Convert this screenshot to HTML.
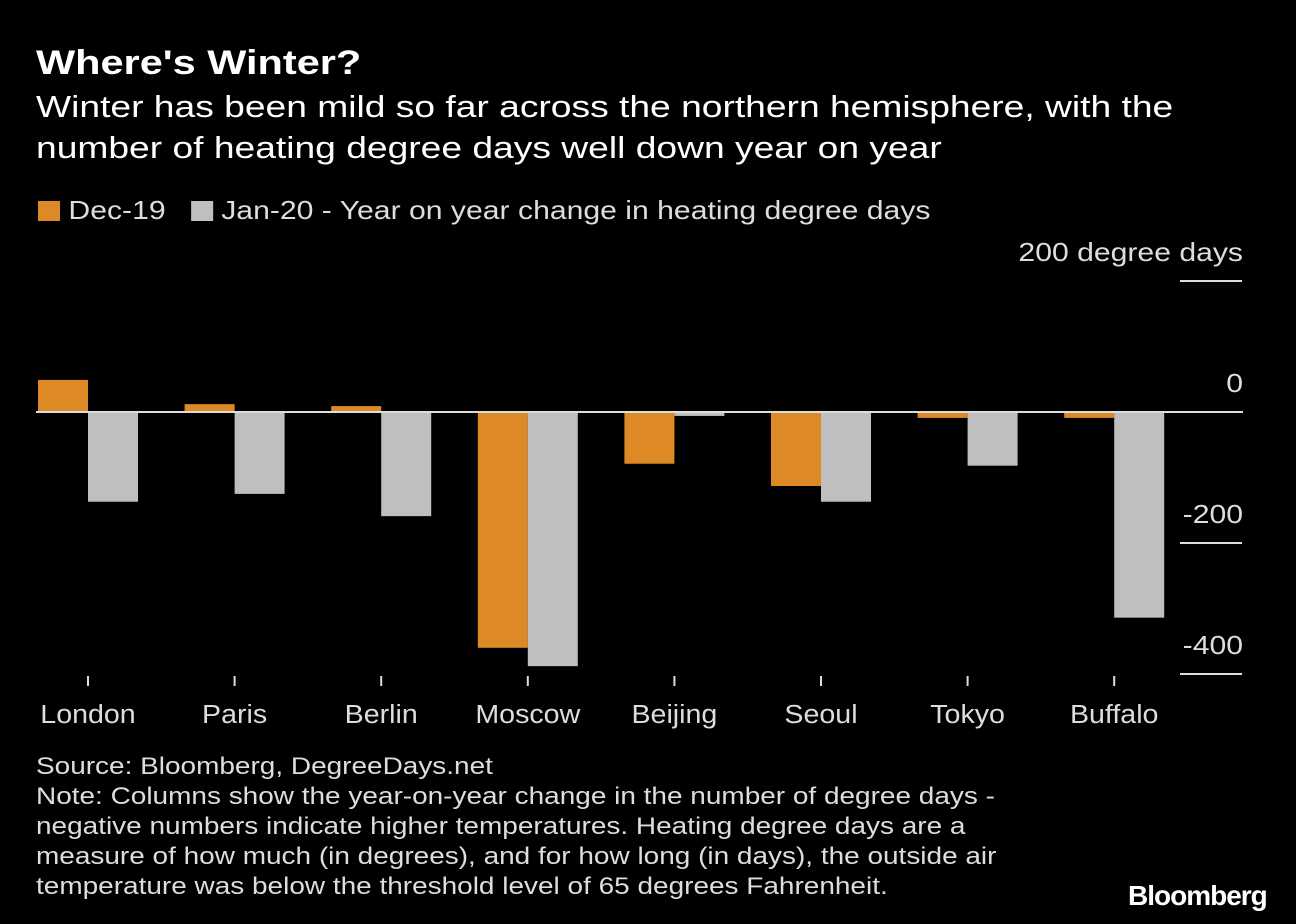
<!DOCTYPE html>
<html><head><meta charset="utf-8"><style>
body{margin:0;background:#000;width:1296px;height:924px;overflow:hidden;font-family:"Liberation Sans",sans-serif;color:#fff}
.t{position:absolute;white-space:nowrap;transform-origin:0 0}
</style></head><body>
<div class="t" style="left:36px;top:44px;font-size:34px;font-weight:bold;transform:scaleX(1.22)">Where's Winter?</div>
<div class="t" style="left:36px;top:86px;font-size:31px;line-height:41px;transform:scaleX(1.2)">Winter has been mild so far across the northern hemisphere, with the<br>number of heating degree days well down year on year</div>
<div class="t" style="left:38px;top:195px;font-size:26px;color:#ddd;transform:scaleX(1.16)">
<span><span style="display:inline-block;width:19px;height:20px;background:#dd8a26;vertical-align:-2px"></span> Dec-19</span>&nbsp;&nbsp;
<span><span style="display:inline-block;width:19px;height:20px;background:#bfbfbf;vertical-align:-2px"></span> Jan-20 - Year on year change in heating degree days</span></div>
<svg id="c" width="1296" height="924" style="position:absolute;left:0;top:0"></svg>
<div class="t" style="left:36px;top:752px;font-size:24px;line-height:30px;color:#ddd;transform:scaleX(1.165)">Source: Bloomberg, DegreeDays.net<br>Note: Columns show the year-on-year change in the number of degree days -<br>negative numbers indicate higher temperatures. Heating degree days are a<br>measure of how much (in degrees), and for how long (in days), the outside air<br>temperature was below the threshold level of 65 degrees Fahrenheit.</div>
<div class="t" style="left:1128px;top:880px;font-size:28px;font-weight:bold;letter-spacing:-1px">Bloomberg</div>
<script>
const categories=["London","Paris","Berlin","Moscow","Beijing","Seoul","Tokyo","Buffalo"];
const dec19=[49,12,9,-360,-79,-113,-9,-9];
const jan20=[-137,-125,-159,-388,-6,-137,-82,-314];
const ticks=[200,0,-200,-400];
const tickLabels=["200 degree days","0","-200","-400"];
const svg=document.getElementById('c');const NS='http://www.w3.org/2000/svg';
const y=v=>412-v*0.655;
const xc=i=>88+i*146.6;
function mk(t,a){const e=document.createElementNS(NS,t);for(const k in a)e.setAttribute(k,a[k]);svg.appendChild(e);return e;}
ticks.forEach((t,i)=>{
 if(t!==0){const l=mk('line',{x1:1180,x2:1242,y1:y(t),y2:y(t),stroke:'#ddd','stroke-width':2});
 
 }
 const tx=mk('text',{x:0,y:0,transform:'translate(1243,'+(y(t)-20)+') scale(1.16,1)','text-anchor':'end',fill:'#ddd','font-size':26,'font-family':'Liberation Sans'});
 tx.textContent=tickLabels[i];
 
 
});
categories.forEach((c,i)=>{
 const x=xc(i);
 const b1=mk('rect',{x:x-50,y:Math.min(y(dec19[i]),y(0)),width:50,height:Math.abs(y(dec19[i])-y(0)),fill:'#dd8a26'});
 
 
 const b2=mk('rect',{x:x,y:Math.min(y(jan20[i]),y(0)),width:50,height:Math.abs(y(jan20[i])-y(0)),fill:'#bfbfbf'});
 
 
 const tk=mk('line',{x1:x,x2:x,y1:676,y2:686,stroke:'#ddd','stroke-width':2});
 
 
 const lb=mk('text',{x:0,y:0,transform:'translate('+x+',723) scale(1.1,1)','text-anchor':'middle',fill:'#ddd','font-size':26,'font-family':'Liberation Sans'});
 lb.textContent=c;
 
 
});
const z=mk('line',{x1:36,x2:1243,y1:y(0),y2:y(0),stroke:'#ddd','stroke-width':2});


</script>
</body></html>
